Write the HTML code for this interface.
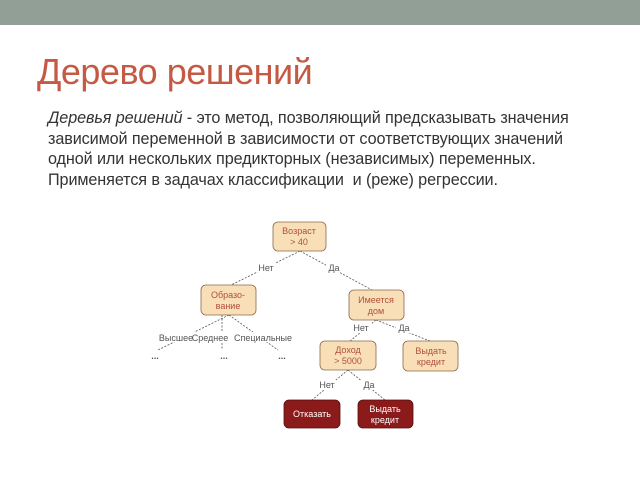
<!DOCTYPE html>
<html><head><meta charset="utf-8"><style>
body{margin:0;width:640px;height:480px;background:#fff;overflow:hidden;position:relative;font-family:"Liberation Sans","DejaVu Sans",sans-serif}
.bar{position:absolute;left:0;top:0;width:640px;height:25px;background:#929f97}
h1{position:absolute;left:37px;top:51px;margin:0;font-weight:normal;font-size:36px;color:#c55a44;letter-spacing:-0.5px}
.p{position:absolute;left:48px;top:108px;font-size:16.2px;line-height:20.5px;color:#333;letter-spacing:-0.1px;white-space:nowrap}
</style></head><body>
<div class="bar"></div>
<h1>Дерево решений</h1>
<div class="p"><i>Деревья решений</i> - это метод, позволяющий предсказывать значения<br>зависимой переменной в зависимости от соответствующих значений<br>одной или нескольких предикторных (независимых) переменных.<br>Применяется в задачах классификации&nbsp; и (реже) регрессии.</div>
<svg width="640" height="480" style="position:absolute;left:0;top:0" font-family="Liberation Sans, DejaVu Sans, sans-serif" font-size="9">
<g stroke="#555" stroke-width="0.8" stroke-dasharray="2,1.5" fill="none">
<line x1="300" y1="251" x2="229" y2="286"/>
<line x1="300" y1="251" x2="372" y2="290"/>
<line x1="229" y1="315" x2="158" y2="350"/>
<line x1="222" y1="315" x2="222" y2="350"/>
<line x1="229" y1="315" x2="278" y2="350"/>
<line x1="376" y1="320" x2="350" y2="341"/>
<line x1="376" y1="320" x2="430" y2="341"/>
<line x1="348" y1="370" x2="312" y2="400"/>
<line x1="348" y1="370" x2="385" y2="400"/>
</g>
<g fill="#fff" font-size="9">
<rect x="256" y="262" width="20" height="10"/><rect x="326" y="262" width="16" height="10"/>
<rect x="155" y="332" width="150" height="10"/>
<rect x="350" y="323" width="22" height="10"/><rect x="396" y="323" width="16" height="10"/>
<rect x="317" y="380" width="20" height="10"/><rect x="361" y="380" width="16" height="10"/>
</g>
<g fill="#555" text-anchor="middle">
<text x="266" y="271">Нет</text><text x="334" y="271">Да</text>
<text x="176" y="341">Высшее</text><text x="210" y="341">Среднее</text><text x="263" y="341">Специальные</text>
<text x="155" y="359" font-weight="bold">...</text><text x="224" y="359" font-weight="bold">...</text><text x="282" y="359" font-weight="bold">...</text>
<text x="361" y="331">Нет</text><text x="404" y="331">Да</text>
<text x="327" y="388">Нет</text><text x="369" y="388">Да</text>
</g>
<g stroke="#8a6a4a" stroke-width="0.8" fill="#f8dfb8">
<rect x="273" y="222" width="53" height="29" rx="5"/>
<rect x="201" y="285" width="55" height="30" rx="5"/>
<rect x="349" y="290" width="55" height="30" rx="5"/>
<rect x="320" y="341" width="56" height="29" rx="5"/>
<rect x="403" y="341" width="55" height="30" rx="5"/>
</g>
<g fill="#8b1a1a" stroke="#5a0e0e" stroke-width="0.8">
<rect x="284" y="400" width="56" height="28" rx="5"/>
<rect x="358" y="400" width="55" height="28" rx="5"/>
</g>
<g fill="#b0503a" text-anchor="middle" font-size="9">
<text x="299" y="234">Возраст</text><text x="299" y="245">&gt; 40</text>
<text x="228" y="298">Образо-</text><text x="228" y="309">вание</text>
<text x="376" y="303">Имеется</text><text x="376" y="314">дом</text>
<text x="348" y="353">Доход</text><text x="348" y="364">&gt; 5000</text>
<text x="431" y="354">Выдать</text><text x="431" y="365">кредит</text>
</g>
<g fill="#fff" text-anchor="middle" font-size="9">
<text x="312" y="417">Отказать</text>
<text x="385" y="412">Выдать</text><text x="385" y="423">кредит</text>
</g>
</svg>
</body></html>
